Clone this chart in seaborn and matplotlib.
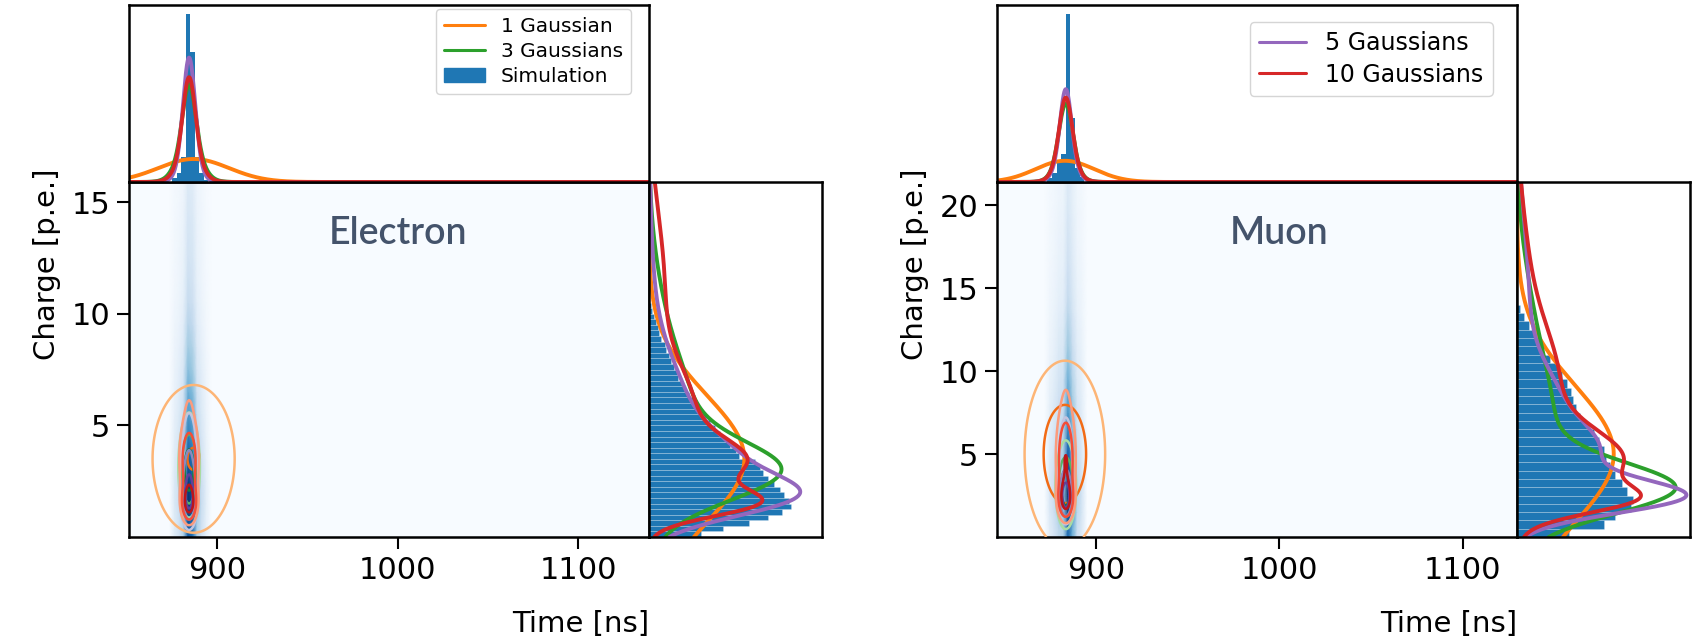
import numpy as np
import matplotlib
matplotlib.use("Agg")
import matplotlib.pyplot as plt
import seaborn as sns
from matplotlib.colors import PowerNorm
from matplotlib.patches import Patch
from matplotlib.lines import Line2D
from matplotlib.transforms import blended_transform_factory

sns.set_theme(style="white")
plt.rcParams['font.family'] = ['DejaVu Sans']

# ---------------------------------------------------------------- data
particles = ["Electron", "Muon"]
model_names = ["1 Gaussian", "3 Gaussians", "5 Gaussians", "10 Gaussians"]
model_colors = ["#ff7f0e", "#2ca02c", "#9467bd", "#d62728"]
model_cmaps = ["Oranges", "Greens", "Purples", "Reds"]
sim_color = "#1f77b4"

time_range_e = [851.2, 1139.3]
charge_range_e = [0.0, 15.9]
time_range_m = [846.0, 1129.5]
charge_range_m = [0.0, 21.4]
time_ticks = [900, 1000, 1100]
charge_ticks_e = [5, 10, 15]
charge_ticks_m = [5, 10, 15, 20]

# simulated time histograms (density per ns)
time_edges_e = [875.2, 877.7, 880.2, 882.7, 885.2, 887.7, 890.2, 892.7, 895.2]
time_hist_e = [0.0031, 0.0079, 0.022, 0.149, 0.115, 0.022, 0.0079, 0.0016]
time_edges_m = [873.5, 876.0, 878.5, 881.0, 883.5, 886.0, 888.5, 891.0, 893.5]
time_hist_m = [0.0042, 0.0104, 0.025, 0.0333, 0.198, 0.075, 0.0166, 0.0062]

# simulated charge histograms (density per p.e.)
charge_bin_e = 0.25
charge_hist_e = [0.076, 0.109, 0.147, 0.175, 0.196, 0.208, 0.206, 0.198, 0.193, 0.183,
                 0.175, 0.168, 0.163, 0.155, 0.132, 0.127, 0.119, 0.112, 0.104, 0.097,
                 0.089, 0.084, 0.076, 0.069, 0.064, 0.058, 0.053, 0.048, 0.043, 0.041,
                 0.036, 0.033, 0.030, 0.025, 0.023, 0.018, 0.015, 0.013, 0.010, 0.008,
                 0.005, 0.003]
charge_bin_m = 0.5
charge_hist_m = [0.052, 0.087, 0.099, 0.115, 0.117, 0.111, 0.106, 0.099, 0.094, 0.090,
                 0.087, 0.082, 0.077, 0.070, 0.063, 0.059, 0.056, 0.054, 0.050, 0.045,
                 0.040, 0.033, 0.026, 0.023, 0.017, 0.012, 0.007, 0.003]

# relative intensity of the 2D simulation map along charge (1 p.e. steps)
heat_charge_e = [0.7, 1.0, 0.9, 0.7, 0.5, 0.35, 0.25, 0.18, 0.13, 0.09, 0.06, 0.045,
                 0.035, 0.03, 0.025, 0.02]
heat_charge_m = [0.6, 0.9, 1.0, 0.9, 0.75, 0.6, 0.48, 0.38, 0.3, 0.24, 0.18, 0.14,
                 0.11, 0.08, 0.06, 0.05, 0.04, 0.035, 0.03, 0.025, 0.02]

# Gaussian mixture fits: (weight, time mean, time sigma, charge mean, charge sigma)
gmm_1_e = [(1.00, 887.0, 19.6, 3.5, 2.85)]
gmm_3_e = [(0.45, 884.5, 3.5, 2.9, 1.25), (0.43, 884.5, 6.0, 4.8, 2.8),
           (0.12, 884.5, 8.0, 9.5, 3.0)]
gmm_5_e = [(0.36, 884.5, 3.0, 1.75, 0.9), (0.29, 884.5, 3.5, 3.3, 1.3),
           (0.28, 884.5, 4.5, 5.5, 2.2), (0.05, 884.5, 6.0, 9.0, 2.5),
           (0.02, 884.5, 8.0, 13.0, 3.0)]
gmm_10_e = [(0.20, 884.5, 3.0, 1.5, 0.6), (0.27, 884.5, 3.5, 3.3, 1.0),
            (0.30, 884.5, 5.0, 5.5, 2.0), (0.20, 884.5, 7.0, 11.0, 3.5)]
gmm_1_m = [(1.00, 883.0, 16.0, 5.0, 4.1)]
gmm_3_m = [(0.50, 883.5, 3.5, 2.9, 1.5), (0.35, 883.5, 5.0, 6.0, 4.0),
           (0.12, 883.5, 7.0, 13.0, 4.0)]
gmm_5_m = [(0.38, 883.5, 2.8, 2.4, 1.0), (0.20, 883.5, 3.5, 5.0, 1.5),
           (0.25, 883.5, 4.5, 7.5, 2.5), (0.15, 883.5, 6.0, 14.0, 5.0)]
gmm_10_m = [(0.15, 883.5, 3.0, 2.2, 0.8), (0.40, 883.5, 3.5, 4.5, 1.8),
            (0.35, 883.5, 5.0, 9.0, 3.5), (0.10, 883.5, 7.0, 16.0, 4.0)]

# contour levels as fractions of each model's peak density
levels_e = [[0.51, 0.985], [0.3, 0.55, 0.8], [0.25, 0.5, 0.8], [0.25, 0.45, 0.75]]
levels_m = [[0.39, 0.77], [0.3, 0.55, 0.8], [0.25, 0.5, 0.8], [0.25, 0.45, 0.75]]
cmap_span = [(0.35, 0.62), (0.35, 0.8), (0.35, 0.8), (0.35, 0.8)]

panels = [
    dict(name="Electron", trange=time_range_e, qrange=charge_range_e, qticks=charge_ticks_e,
         tedges=time_edges_e, thist=time_hist_e, qbin=charge_bin_e, qhist=charge_hist_e,
         heat=heat_charge_e, models=[gmm_1_e, gmm_3_e, gmm_5_e, gmm_10_e], levels=levels_e,
         tmax=0.1566, qmax=0.254, legend=[0, 1, "sim"], x0=129,
         leg_font=14.5, leg_anchor=(1 - 18 / 520, 1 - 4 / 177)),
    dict(name="Muon", trange=time_range_m, qrange=charge_range_m, qticks=charge_ticks_m,
         tedges=time_edges_m, thist=time_hist_m, qbin=charge_bin_m, qhist=charge_hist_m,
         heat=heat_charge_m, models=[gmm_1_m, gmm_3_m, gmm_5_m, gmm_10_m], levels=levels_m,
         tmax=0.208, qmax=0.174, legend=[2, 3], x0=997,
         leg_font=17, leg_anchor=(1 - 24 / 520, 1 - 17 / 177)),
]


def pdf1d(x, comps, axis):
    y = np.zeros_like(x)
    for w, mt, st, mq, sq in comps:
        m, s = (mt, st) if axis == "t" else (mq, sq)
        y += w * np.exp(-0.5 * ((x - m) / s) ** 2) / (s * np.sqrt(2 * np.pi))
    return y


def pdf2d(T, Q, comps):
    z = np.zeros_like(T)
    for w, mt, st, mq, sq in comps:
        z += w * np.exp(-0.5 * ((T - mt) / st) ** 2 - 0.5 * ((Q - mq) / sq) ** 2) / (2 * np.pi * st * sq)
    return z


# ---------------------------------------------------------------- figure
W, H = 1692, 643
fig = plt.figure(figsize=(W / 100, H / 100), dpi=100)


def frac(x0, y0, x1, y1):
    return [x0 / W, 1 - y1 / H, (x1 - x0) / W, (y1 - y0) / H]


for p in panels:
    x0 = p["x0"]
    ax = fig.add_axes(frac(x0, 182, x0 + 520, 537))
    ax_t = fig.add_axes(frac(x0, 5, x0 + 520, 182))
    ax_r = fig.add_axes(frac(x0 + 520, 182, x0 + 693, 537))

    t0, t1 = p["trange"]
    q0, q1 = p["qrange"]

    # ---- 2D simulation map
    ax.set_facecolor(plt.cm.Blues(0.0))
    tedges = np.array(p["tedges"])
    tcent = 0.5 * (tedges[1:] + tedges[:-1])
    tnodes = np.concatenate([[tedges[0] - 1.5], tcent, [tedges[-1] + 1.5]])
    tval = np.concatenate([[0.0], np.array(p["thist"]) / max(p["thist"]), [0.0]])
    heat = np.array(p["heat"])
    qcent = np.arange(len(heat)) + 0.5
    qnodes = np.concatenate([[0.0], qcent, [q1]])
    qval = np.concatenate([[heat[0]], heat, [heat[-1]]])
    Z = np.outer(qval, tval)
    TT, QQ = np.meshgrid(tnodes, qnodes)
    ax.pcolormesh(TT, QQ, Z, shading="gouraud", cmap="Blues",
                  norm=PowerNorm(gamma=0.5, vmin=0, vmax=Z.max()), zorder=1)

    # ---- model contours
    tg = np.linspace(t0, t1, 1200)
    qg = np.linspace(q0, q1, 500)
    TG, QG = np.meshgrid(tg, qg)
    for comps, cmap_name, lev, span in zip(p["models"], model_cmaps, p["levels"], cmap_span):
        Zm = pdf2d(TG, QG, comps)
        cols = plt.get_cmap(cmap_name)(np.linspace(span[0], span[1], len(lev)))
        ax.contour(TG, QG, Zm, levels=np.array(lev) * Zm.max(), colors=cols,
                   linewidths=1.8, zorder=3)

    ax.set_xlim(t0, t1)
    ax.set_ylim(q0, q1)
    ax.set_xticks(time_ticks)
    ax.set_yticks(p["qticks"])
    ax.tick_params(axis="both", which="major", bottom=True, left=True, direction="out",
                   length=8.5, width=1.5, color="black", labelcolor="black",
                   labelsize=22, pad=5)
    ax.set_xlabel("Time [ns]", fontsize=21, color="black", ha="right")
    ax.xaxis.set_label_coords(1.0, -0.205)
    ax.set_ylabel("Charge [p.e.]", fontsize=21, color="black", ha="left")
    ax.yaxis.set_label_coords(-0.131, 0.50)
    trans = blended_transform_factory(ax.transData, ax.transAxes)
    ax.text(1000, 0.825, p["name"], transform=trans, ha="center", va="baseline",
            fontsize=27, color="#44536b", family="Lato", fontweight="semibold", zorder=5)

    # ---- time marginal
    ax_t.bar(tedges[:-1], p["thist"], width=np.diff(tedges), align="edge",
             color=sim_color, linewidth=0)
    tt = np.linspace(t0, t1, 1500)
    for comps, col in zip(p["models"], model_colors):
        sns.lineplot(x=tt, y=pdf1d(tt, comps, "t"), ax=ax_t, color=col, lw=2.8,
                     estimator=None, sort=False)
    ax_t.set_xlim(t0, t1)
    ax_t.set_ylim(0, p["tmax"])

    # ---- charge marginal
    qedges = np.arange(len(p["qhist"]) + 1) * p["qbin"]
    ax_r.barh(qedges[:-1], p["qhist"], height=p["qbin"], align="edge", color=sim_color,
              edgecolor=(1, 1, 1, 0.35), linewidth=0.4)
    qq = np.linspace(q0, q1, 800)
    for comps, col in zip(p["models"], model_colors):
        sns.lineplot(x=pdf1d(qq, comps, "q"), y=qq, ax=ax_r, color=col, lw=2.8,
                     estimator=None, sort=False)
    ax_r.set_ylim(q0, q1)
    ax_r.set_xlim(0, p["qmax"])

    for a in (ax_t, ax_r):
        a.set_xticks([])
        a.set_yticks([])
        a.set_xlabel("")
        a.set_ylabel("")
        a.set_facecolor("white")
    for a in (ax, ax_t, ax_r):
        for s in a.spines.values():
            s.set_color("black")
            s.set_linewidth(1.8)
            s.set_visible(True)

    # ---- legend
    handles = []
    for item in p["legend"]:
        if item == "sim":
            handles.append(Patch(facecolor=sim_color, edgecolor=sim_color, label="Simulation"))
        else:
            handles.append(Line2D([], [], color=model_colors[item], lw=2.2,
                                  label=model_names[item]))
    leg = ax_t.legend(handles=handles, loc="upper right", bbox_to_anchor=p["leg_anchor"],
                      borderaxespad=0, fontsize=p["leg_font"], frameon=True,
                      fancybox=True, framealpha=1, edgecolor="#d5d5d5",
                      labelspacing=0.3)
    for txt in leg.get_texts():
        txt.set_color("black")

fig.savefig("out.png", dpi=100, facecolor="white")
